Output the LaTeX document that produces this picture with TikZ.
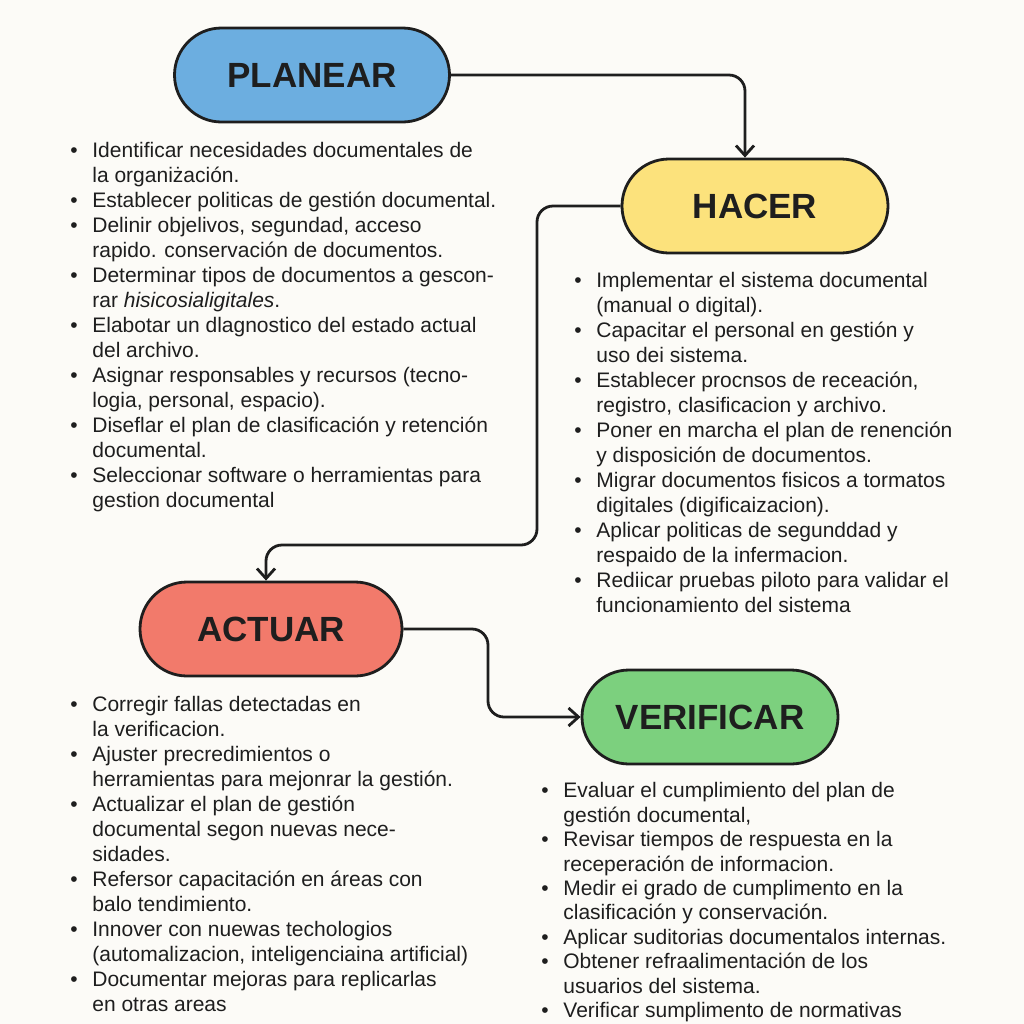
\documentclass[tikz,border=0pt]{standalone}
\usepackage{fontspec}
\setmainfont{Liberation Sans}
\usetikzlibrary{shapes.misc,arrows.meta}

\definecolor{paper}{HTML}{FCFBF7}
\definecolor{ink}{HTML}{1E1E1E}
\definecolor{planblue}{HTML}{6CAEE0}
\definecolor{doyellow}{HTML}{FCE27C}
\definecolor{actred}{HTML}{F27A6B}
\definecolor{checkgreen}{HTML}{7CD07E}

\newcommand{\bulletitem}{\makebox[11pt][l]{\textbullet}}
\newcommand{\bulletcont}{\hspace*{11pt}}

\tikzset{
  pill/.style={rounded rectangle, draw=ink, line width=1.4pt,
    minimum height=47pt, inner sep=0pt, text=ink,
    font=\fontsize{17.5}{20}\selectfont\bfseries},
  bullets/.style={anchor=north west, inner sep=0pt, align=left, text=ink,
    font=\fontsize{10.5}{12.5}\selectfont},
  flow/.style={-{Straight Barb[length=5pt,width=9pt]}, draw=ink,
    line width=1.4pt, rounded corners=8pt}
}

\begin{document}
\begin{tikzpicture}[x=0.5pt,y=-0.5pt]
  \fill[paper] (0,0) rectangle (1024,1024);
  \useasboundingbox (0,0) rectangle (1024,1024);

  % the four phases
  \node[pill, fill=planblue,   minimum width=137.5pt] (plan)  at (312,75)  {PLANEAR};
  \node[pill, fill=doyellow,   minimum width=133pt]   (hacer) at (755,206) {HACER};
  \node[pill, fill=actred,     minimum width=131pt]   (act)   at (271,629) {ACTUAR};
  \node[pill, fill=checkgreen, minimum width=128pt]   (verif) at (710,717) {VERIFICAR};

  % task lists
  \node[bullets] (planlist) at (70,139.5) {%
    \strut\bulletitem Identificar necesidades documentales de\\
    \bulletcont la organiżación.\\
    \bulletitem Establecer politicas de gestión documental.\\
    \bulletitem Delinir objelivos, segundad, acceso\\
    \bulletcont rapido. conservación de documentos.\\
    \bulletitem Determinar tipos de documentos a gescon-\\
    \bulletcont rar \textit{hisicosialigitales}.\\
    \bulletitem Elabotar un dlagnostico del estado actual\\
    \bulletcont del archivo.\\
    \bulletitem Asignar responsables y recursos (tecno-\\
    \bulletcont logia, personal, espacio).\\
    \bulletitem Diseflar el plan de clasificación y retención\\
    \bulletcont documental.\\
    \bulletitem Seleccionar software o herramientas para\\
    \bulletcont gestion documental};

  \node[bullets] (hacerlist) at (574,269.5) {%
    \strut\bulletitem Implementar el sistema documental\\
    \bulletcont (manual o digital).\\
    \bulletitem Capacitar el personal en gestión y\\
    \bulletcont uso dei sistema.\\
    \bulletitem Establecer procnsos de receación,\\
    \bulletcont registro, clasificacion y archivo.\\
    \bulletitem Poner en marcha el plan de renención\\
    \bulletcont y disposición de documentos.\\
    \bulletitem Migrar documentos fisicos a tormatos\\
    \bulletcont digitales (digificaizacion).\\
    \bulletitem Aplicar politicas de segunddad y\\
    \bulletcont respaido de la infermacion.\\
    \bulletitem Rediicar pruebas piloto para validar el\\
    \bulletcont funcionamiento del sistema};

  \node[bullets] (actlist) at (70,693.5) {%
    \strut\bulletitem Corregir fallas detectadas en\\
    \bulletcont la verificacion.\\
    \bulletitem Ajuster precredimientos o\\
    \bulletcont herramientas para mejonrar la gestión.\\
    \bulletitem Actualizar el plan de gestión\\
    \bulletcont documental segon nuevas nece-\\
    \bulletcont sidades.\\
    \bulletitem Refersor capacitación en áreas con\\
    \bulletcont balo tendimiento.\\
    \bulletitem Innover con nuewas techologios\\
    \bulletcont (automalizacion, inteligenciaina artificial)\\
    \bulletitem Documentar mejoras para replicarlas\\
    \bulletcont en otras areas};

  \node[bullets, font=\fontsize{10.5}{12.2}\selectfont] (veriflist) at (541,780.5) {%
    \strut\bulletitem Evaluar el cumplimiento del plan de\\
    \bulletcont gestión documental,\\
    \bulletitem Revisar tiempos de respuesta en la\\
    \bulletcont receperación de informacion.\\
    \bulletitem Medir ei grado de cumplimento en la\\
    \bulletcont clasificación y conservación.\\
    \bulletitem Aplicar suditorias documentalos internas.\\
    \bulletitem Obtener refraalimentación de los\\
    \bulletcont usuarios del sistema.\\
    \bulletitem Verificar sumplimento de normativas};

  % cycle connectors
  \coordinate (h1) at (537,545);
  \coordinate (a1) at (488,629);
  \draw[flow] (plan.east) -| ([xshift=-5pt]hacer.north);
  \draw[flow] (hacer.west) -| (h1) -| ([xshift=-2.5pt]act.north);
  \draw[flow] (act.east) -- (a1) |- (verif.west);
\end{tikzpicture}
\end{document}
